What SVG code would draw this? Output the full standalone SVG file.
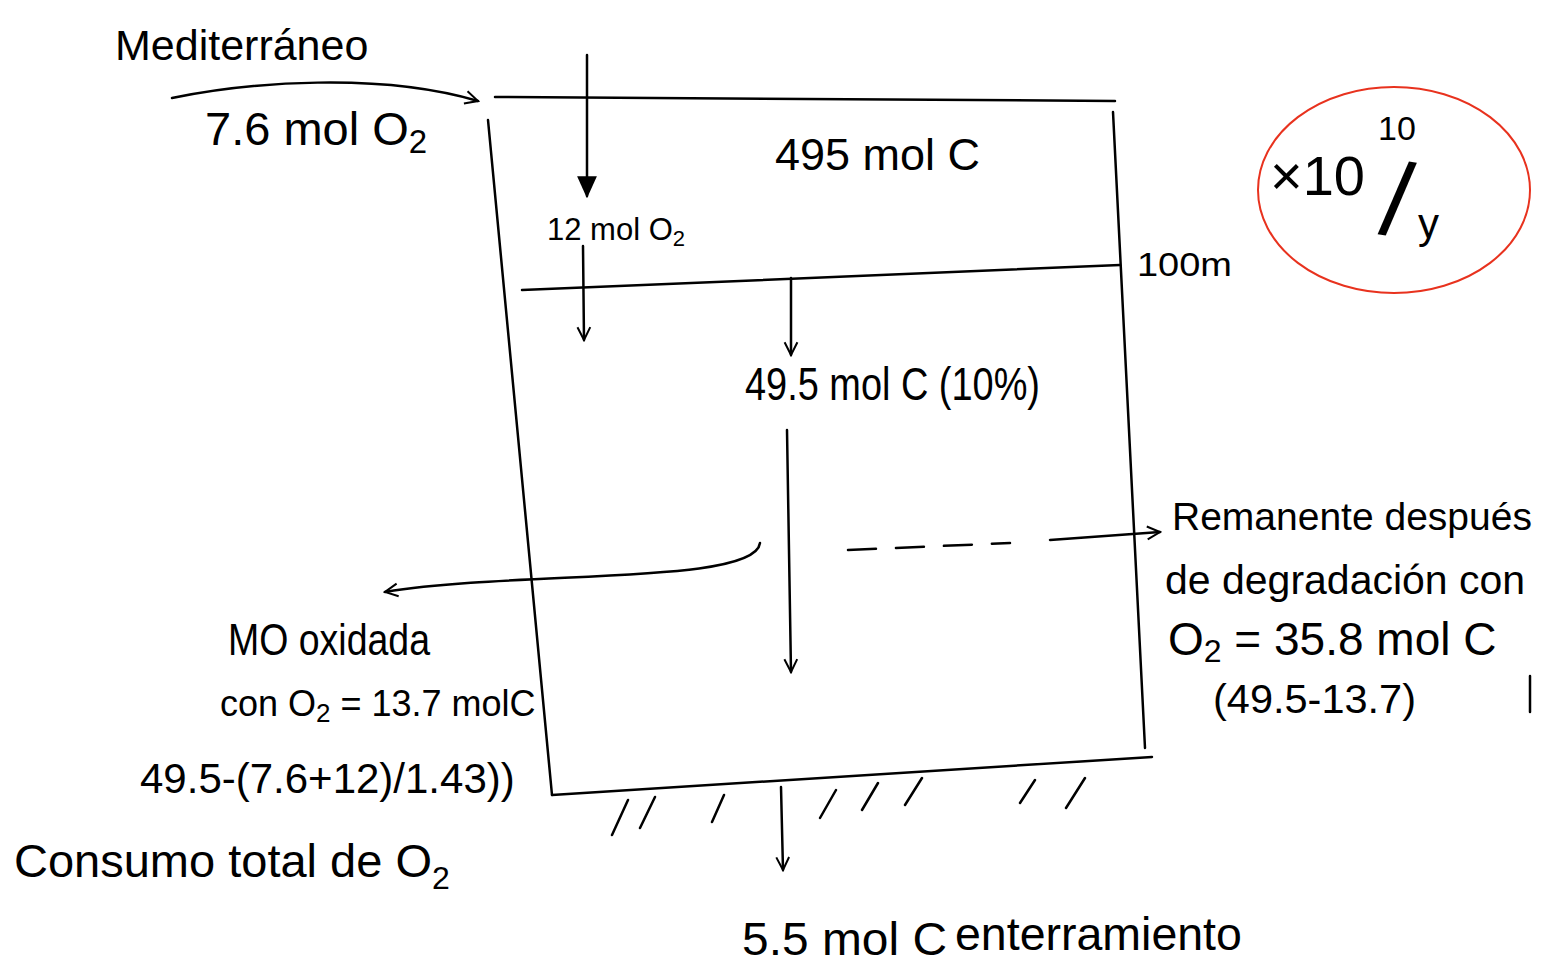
<svg xmlns="http://www.w3.org/2000/svg" width="1541" height="964" viewBox="0 0 1541 964">
<defs>
<style>
.ln{fill:none;stroke:#000;stroke-width:2.5;stroke-linecap:round;stroke-linejoin:round}
.hw{font-family:"Liberation Sans","DejaVu Sans",sans-serif;fill:#000}
.ty{font-family:"Liberation Sans",Arial,sans-serif;fill:#000}
</style>
<marker id="open" viewBox="0 0 20 20" refX="18" refY="10" markerWidth="16" markerHeight="16" markerUnits="userSpaceOnUse" orient="auto">
<path d="M2,2 L18,10 L2,18" fill="none" stroke="#000" stroke-width="2.5"/>
</marker>
<marker id="tri" viewBox="0 0 20 20" refX="18" refY="10" markerWidth="22" markerHeight="22" markerUnits="userSpaceOnUse" orient="auto">
<path d="M0,1 L20,10 L0,19 Z" fill="#000"/>
</marker>
</defs>
<rect width="1541" height="964" fill="#fff"/>

<g id="box">
<path class="ln" d="M495,97 L1115,101"/>
<path class="ln" d="M488,120 L552,795"/>
<path class="ln" d="M1113,112 L1145,748"/>
<path class="ln" d="M552,795 L1152,757"/>
<path class="ln" d="M522,290 L1120,265"/>
</g>

<g id="sediment">
<path class="ln" d="M612,835 L628,800 M640,828 L655,797 M712,822 L724,795 M820,818 L836,790 M862,810 L878,783 M905,805 L922,778 M1020,803 L1035,780 M1066,808 L1085,778"/>
<path class="ln" d="M1530,676 L1530,712" stroke-width="1.5"/>
</g>

<g id="connectors">
<path class="ln" d="M172,98 C250,82 380,72 478,101" marker-end="url(#open)"/>
<path class="ln" d="M587,55 L587,196" marker-end="url(#tri)"/>
<path class="ln" d="M583,246 L584,340" marker-end="url(#open)"/>
<path class="ln" d="M791,278 L791,355" marker-end="url(#open)"/>
<path class="ln" d="M787,430 L791,672" marker-end="url(#open)"/>
<path class="ln" d="M760,543 C755,585 520,570 385,592" marker-end="url(#open)"/>
<path class="ln" d="M848,550 L1010,543" stroke-dasharray="28,20"/>
<path class="ln" d="M1050,540 L1160,532" marker-end="url(#open)"/>
<path class="ln" d="M781,787 L783,870" marker-end="url(#open)"/>
</g>

<g id="mediterraneo">
<text class="hw" x="115" y="60" font-size="43">Mediterráneo</text>
<text class="hw" x="205" y="145" font-size="47">7.6 mol O<tspan font-size="33" dy="8">2</tspan></text>
</g>

<g id="surface">
<text class="hw" x="775" y="170" font-size="44" textLength="205" lengthAdjust="spacingAndGlyphs">495 mol C</text>
<text class="hw" x="547" y="240" font-size="31">12 mol O<tspan font-size="22" dy="6">2</tspan></text>
<text class="hw" x="1137" y="276" font-size="34" textLength="95" lengthAdjust="spacingAndGlyphs">100m</text>
</g>

<g id="export">
<text class="hw" x="745" y="400" font-size="46" textLength="295" lengthAdjust="spacingAndGlyphs">49.5 mol C (10%)</text>
</g>

<g id="factor">
<ellipse cx="1394" cy="190" rx="136" ry="103" fill="none" stroke="#e8321e" stroke-width="2"/>
<text class="hw" x="1270" y="195" font-size="56">×10</text>
<text class="hw" x="1378" y="140" font-size="34">10</text>
<text class="hw" x="1384" y="236" font-size="104" transform="rotate(8 1400 190)">/</text>
<text class="hw" x="1418" y="238" font-size="42">y</text>
</g>

<g id="remanente">
<text class="hw" x="1172" y="530" font-size="39">Remanente después</text>
<text class="hw" x="1165" y="594" font-size="41">de degradación con</text>
<text class="hw" x="1168" y="655" font-size="46">O<tspan font-size="32" dy="7">2</tspan><tspan dy="-7"> = 35.8 mol C</tspan></text>
<text class="ty" x="1213" y="713" font-size="41.5">(49.5-13.7)</text>
</g>

<g id="oxidada">
<text class="hw" x="228" y="655" font-size="44" textLength="202" lengthAdjust="spacingAndGlyphs">MO oxidada</text>
<text class="hw" x="220" y="716" font-size="36">con O<tspan font-size="26" dy="6">2</tspan><tspan dy="-6"> = 13.7 molC</tspan></text>
<text class="ty" x="140" y="793" font-size="42">49.5-(7.6+12)/1.43))</text>
</g>

<g id="consumo">
<text class="ty" x="14" y="877" font-size="47">Consumo total de O<tspan font-size="32" dy="12">2</tspan></text>
</g>

<g id="enterramiento">
<text class="hw" x="742" y="955" font-size="46" textLength="205" lengthAdjust="spacingAndGlyphs">5.5 mol C</text>
<text class="ty" x="955" y="950" font-size="46.5">enterramiento</text>
</g>
</svg>
